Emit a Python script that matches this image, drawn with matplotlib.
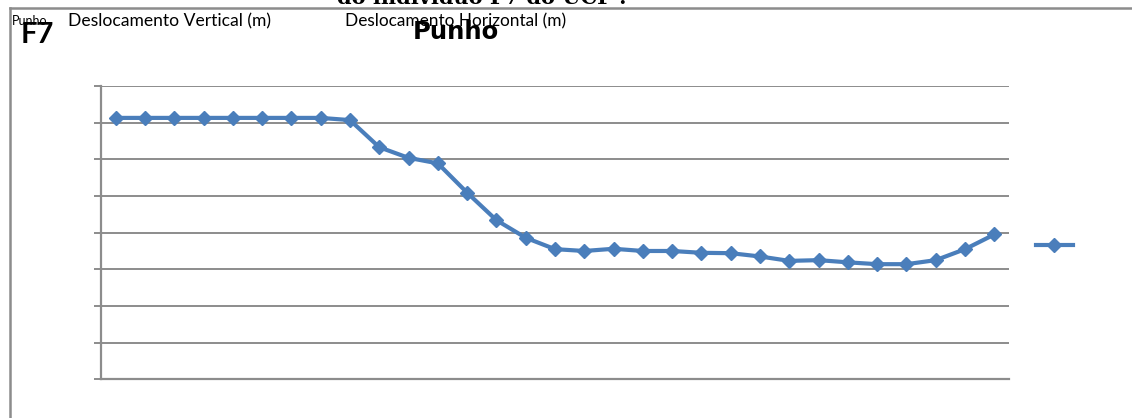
import matplotlib
matplotlib.use('Agg')
import matplotlib.pyplot as plt
from matplotlib.lines import Line2D

# deslocamento do punho, 31 amostras (eixo sem rótulos no original)
frames = list(range(31))
deslocamento = [7.13, 7.13, 7.13, 7.13, 7.13, 7.13, 7.13, 7.13, 7.07, 6.33,
                6.04, 5.89, 5.09, 4.34, 3.86, 3.55, 3.50, 3.56, 3.50, 3.50,
                3.45, 3.44, 3.35, 3.23, 3.25, 3.19, 3.14, 3.14, 3.25, 3.55,
                3.95]
y_ticks = [0, 1, 2, 3, 4, 5, 6, 7, 8]

W, H = 1132, 418
fig = plt.figure(figsize=(W / 100, H / 100), dpi=100)
plt.rcParams['font.family'] = ['Lato', 'DejaVu Sans']

ax = fig.add_axes([101 / W, (H - 379.3) / H, 908 / W, (379.3 - 86) / H])
blue = '#4a7ebb'
grey = '#8c8c8c'
line, = ax.plot(frames, deslocamento, color=blue, lw=3, marker='D', ms=7.5,
                markeredgecolor=blue)

ax.set_xlim(-0.5, 30.5)
ax.set_ylim(0, 8)
ax.set_yticks(y_ticks)
ax.set_yticklabels([])
ax.set_xticks([])
ax.yaxis.grid(True, color=grey, lw=1.4)
ax.set_axisbelow(True)
for s in ['top', 'right']:
    ax.spines[s].set_visible(False)
for s in ['left', 'bottom']:
    ax.spines[s].set_color(grey)
    ax.spines[s].set_linewidth(1.6)
ax.tick_params(axis='y', length=5, width=1.4, color=grey)

# legenda sem texto, só o marcador
fig.legend([Line2D([], [], color=blue, lw=3, marker='D', ms=7.5)], [''],
           loc='center', bbox_to_anchor=(1060 / W, (H - 246) / H),
           frameon=False, handlelength=2.7, fontsize=10)

# moldura do gráfico (só esquerda e topo visíveis)
fig.add_artist(Line2D([10 / W, 10 / W], [0, (H - 8) / H], color=grey, lw=1.8))
fig.add_artist(Line2D([10 / W, 1], [(H - 8) / H, (H - 8) / H], color=grey, lw=1.8))

# textos sobrepostos do topo
fig.text(337 / W, (H + 2) / H, "do indivíduo F7 do UCP'.", family='DejaVu Serif',
         fontweight='bold', fontsize=15, va='center', ha='left')
fig.text(12 / W, (H - 25) / H, 'Punho', fontsize=9, va='baseline', ha='left')
fig.text(21 / W, (H - 43) / H, 'F7', fontsize=21, fontweight='bold', va='baseline', ha='left')
fig.text(68 / W, (H - 26) / H, 'Deslocamento Vertical (m)', fontsize=12.6,
         va='baseline', ha='left')
fig.text(345 / W, (H - 26) / H, 'Deslocamento Horizontal (m)', fontsize=12.4,
         va='baseline', ha='left')
fig.text(413 / W, (H - 39) / H, 'Punho', family=['DejaVu Sans'], fontsize=17.5,
         fontweight='bold', va='baseline', ha='left')

fig.savefig('out.png', dpi=100)
